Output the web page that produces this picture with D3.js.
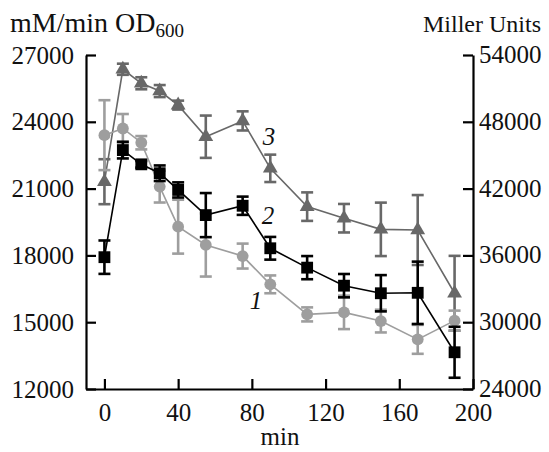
<!DOCTYPE html>
<html><head><meta charset="utf-8">
<script src="https://cdn.jsdelivr.net/npm/d3@7"></script>
<style>
body{margin:0;background:#fff;}
svg text{font-family:"Liberation Serif","Times New Roman","DejaVu Serif",serif !important;}
</style></head>
<body><svg id="c" width="549" height="452" font-family="Liberation Serif"></svg>
<script>
const times = [0,10,20,30,40,55,75,90,110,130,150,170,190];
const s1 = [23400,23700,23060,21090,19290,18470,17970,16700,15350,15440,15050,14230,15070];
const e1 = [1570,650,300,715,1210,1420,560,400,315,750,510,650,450];
const s2 = [17920,22730,22090,21690,20940,19810,20230,18320,17450,16640,16300,16320,13650];
const e2 = [750,375,150,350,340,990,410,510,520,525,815,1400,1145];
const s3 = [21310,26360,25730,25380,24750,23330,24040,21910,20190,19670,19170,19140,16300];
const e3 = [1010,250,270,270,200,950,430,615,640,640,1200,1570,1680];
const xTicks = [0,40,80,120,160,200];
const yLeftTicks = [12000,15000,18000,21000,24000,27000];
const yRightTicks = [24000,30000,36000,42000,48000,54000];
const seriesLabels = ["1","2","3"];

const FONT = "Liberation Serif";
const svg = d3.select("#c");
const x = d3.scaleLinear().domain([-10,200]).range([86,473]);
const yL = d3.scaleLinear().domain([12000,27000]).range([389,55]);
const yR = d3.scaleLinear().domain([24000,54000]).range([389,55]);
const fs = 25;

const gx = svg.append("g").attr("transform","translate(0,389)")
  .call(d3.axisBottom(x).tickValues(xTicks).tickSizeInner(-10).tickSizeOuter(0).tickPadding(14).tickFormat(d3.format("d")));
const gl = svg.append("g").attr("transform","translate(86,0)")
  .call(d3.axisLeft(yL).tickValues(yLeftTicks).tickSizeInner(-10).tickSizeOuter(0).tickPadding(12).tickFormat(d3.format("d")));
const gr = svg.append("g").attr("transform","translate(473,0)")
  .call(d3.axisRight(yR).tickValues(yRightTicks).tickSizeInner(-10).tickSizeOuter(0).tickPadding(6).tickFormat(d3.format("d")));
[gx,gl,gr].forEach(g=>{
  g.attr("font-family",FONT).attr("font-size",fs);
  g.selectAll("path.domain").attr("stroke","#000").attr("stroke-width",2.2);
  g.selectAll(".tick line").attr("stroke","#000").attr("stroke-width",2.2);
  g.selectAll(".tick text").attr("font-size",fs).attr("fill","#111").attr("font-family",FONT);
});
gr.selectAll(".tick text").attr("dy","0.3em");

const series = [
  {v:s3,e:e3,color:"#686868",sym:"tri"},
  {v:s1,e:e1,color:"#9e9e9e",sym:"circle"},
  {v:s2,e:e2,color:"#000000",sym:"square"}
];
const line = d3.line().x((d,i)=>x(times[i])).y(d=>yL(d));
series.forEach(s=>{
  const g = svg.append("g");
  g.append("path").datum(s.v).attr("d",line).attr("fill","none").attr("stroke",s.color).attr("stroke-width",1.6);
  const eb = g.selectAll("g.eb").data(s.v).join("g");
  eb.append("line").attr("x1",(d,i)=>x(times[i])).attr("x2",(d,i)=>x(times[i]))
    .attr("y1",(d,i)=>yL(d+s.e[i])).attr("y2",(d,i)=>yL(d-s.e[i]))
    .attr("stroke",s.color).attr("stroke-width",2.6);
  [1,-1].forEach(sg=>{
    eb.append("line").attr("x1",(d,i)=>x(times[i])-6).attr("x2",(d,i)=>x(times[i])+6)
      .attr("y1",(d,i)=>yL(d+sg*s.e[i])).attr("y2",(d,i)=>yL(d+sg*s.e[i]))
      .attr("stroke",s.color).attr("stroke-width",2.6);
  });
  const symType = s.sym==="tri"?d3.symbolTriangle:(s.sym==="square"?d3.symbolSquare:d3.symbolCircle);
  const size = s.sym==="tri"?95:(s.sym==="square"?140:110);
  g.selectAll("path.m").data(s.v).join("path").attr("class","m")
    .attr("transform",(d,i)=>`translate(${x(times[i])},${yL(d)})`)
    .attr("d",d3.symbol().type(symType).size(size)).attr("fill",s.color);
});

const labPos = [[256,300],[268,215],[269,136]];
seriesLabels.forEach((t,i)=>{
  svg.append("text").attr("x",labPos[i][0]).attr("y",labPos[i][1]).attr("dy","0.35em")
    .attr("text-anchor","middle").attr("font-family",FONT).attr("font-size",fs).attr("font-style","italic").attr("fill","#111").text(t);
});

const t1 = svg.append("text").attr("x",10).attr("y",32).attr("font-family",FONT).attr("font-size",28).attr("fill","#111");
t1.append("tspan").text("mM/min OD");
t1.append("tspan").attr("font-size",19).attr("dy",5).text("600");
svg.append("text").attr("x",541).attr("y",32).attr("text-anchor","end").attr("font-family",FONT).attr("font-size",24).attr("fill","#111").text("Miller Units");
svg.append("text").attr("x",280).attr("y",445).attr("text-anchor","middle").attr("font-family",FONT).attr("font-size",fs).attr("fill","#111").text("min");
</script></body></html>
